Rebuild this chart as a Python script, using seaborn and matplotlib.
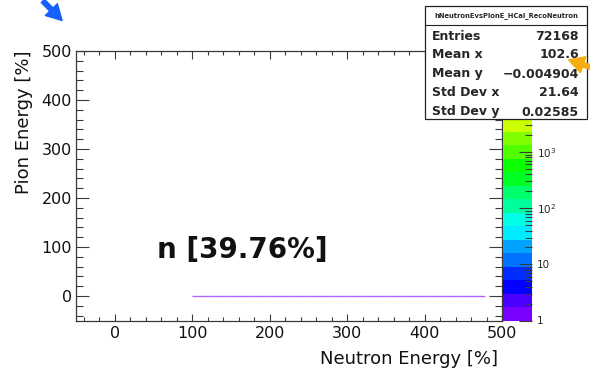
import colorsys
import numpy as np
import pandas as pd
import seaborn as sns
import matplotlib
matplotlib.use("Agg")
import matplotlib.pyplot as plt
from matplotlib.colors import ListedColormap, LogNorm
from matplotlib.cm import ScalarMappable
from matplotlib.patches import Rectangle, FancyArrowPatch
from matplotlib.lines import Line2D
from matplotlib.ticker import MultipleLocator, FixedLocator

# ---------------- data ----------------
hist_name = "hNeutronEvsPionE_HCal_RecoNeutron"
bin_left = [100, 125, 150, 175, 200, 225, 250, 275, 300, 325, 350, 375, 400, 425, 450]
bin_right = [125, 150, 175, 200, 225, 250, 275, 300, 325, 350, 375, 400, 425, 450, 478]
bin_y = [0, 0, 0, 0, 0, 0, 0, 0, 0, 0, 0, 0, 0, 0, 0]
bin_counts = [1.6, 1.5, 1.4, 1.3, 1.3, 1.2, 1.2, 1.1, 1.1, 1.1, 1.0, 1.0, 1.0, 1.0, 1.0]
z_min, z_max = 1.0, 6.3e4
x_ticks = [0, 100, 200, 300, 400, 500]
y_ticks = [0, 100, 200, 300, 400, 500]
cbar_ticks = [1, 10, 100, 1000, 10000]
cbar_labels = ["1", "10", "$10^{2}$", "$10^{3}$", ""]
stat_names = ["Entries", "Mean x", "Mean y", "Std Dev x", "Std Dev y"]
stat_values = ["72168", "102.6", "\u22120.004904", "21.64", "0.02585"]
annotation = "n [39.76%]"
x_title = "Neutron Energy [%]"
y_title = "Pion Energy [%]"

df = pd.DataFrame({"x0": bin_left, "x1": bin_right, "y": bin_y, "n": bin_counts})

# ---------------- style ----------------
sns.set_style("ticks")
plt.rcParams["font.family"] = ["DejaVu Sans"]
plt.rcParams["axes.axisbelow"] = False

# ROOT "pretty" palette, 20 contour bands
pal = []
for k in range(20):
    idx = int(k * 2.5)
    hue = 274.4 - 5.6 * (idx + 1)
    pal.append(colorsys.hls_to_rgb(hue / 360.0, 0.5, 1.0))
cmap = ListedColormap(pal)
norm = LogNorm(z_min, z_max)

W, H = 590, 368
fig = plt.figure(figsize=(W / 100, H / 100), dpi=100)
fig.patch.set_facecolor("white")

def fx(px):
    return px / W

def fy(py):
    return 1 - py / H

ax_l, ax_r, ax_t, ax_b = 76, 502, 51, 320.5
ax = fig.add_axes([fx(ax_l), fy(ax_b), fx(ax_r - ax_l), (ax_b - ax_t) / H])
ax.set_facecolor("white")

ax.hlines(df["y"], df["x0"], df["x1"], colors=cmap(norm(df["n"].values)),
          linewidth=1.0, alpha=0.6, zorder=3)

ax.set_xlim(-50, 500)
ax.set_ylim(-50, 500)
ax.xaxis.set_major_locator(FixedLocator(x_ticks))
ax.yaxis.set_major_locator(FixedLocator(y_ticks))
ax.xaxis.set_minor_locator(MultipleLocator(20))
ax.yaxis.set_minor_locator(MultipleLocator(20))
ax.set_xticklabels([str(v) for v in x_ticks])
ax.set_yticklabels([str(v) for v in y_ticks])

frame_c = "#3a3a3a"
for s in ax.spines.values():
    s.set_visible(True)
    s.set_color(frame_c)
    s.set_linewidth(0.9)

ax.tick_params(axis="x", which="major", direction="in", length=5.4, width=0.8,
               top=True, bottom=True, color=frame_c, labelsize=11.5, pad=4,
               labelcolor="#111111")
ax.tick_params(axis="x", which="minor", direction="in", length=2.9, width=0.8,
               top=True, bottom=True, color=frame_c)
ax.tick_params(axis="y", which="major", direction="in", length=9.4, width=0.8,
               left=True, right=True, color=frame_c, labelsize=11.5, pad=3,
               labelcolor="#111111")
ax.tick_params(axis="y", which="minor", direction="in", length=4.8, width=0.8,
               left=True, right=True, color=frame_c)
ax.set_xlabel("")
ax.set_ylabel("")

# colorbar
cax = fig.add_axes([fx(503), fy(ax_b), fx(28.5), (ax_b - ax_t) / H])
sm = ScalarMappable(norm=norm, cmap=cmap)
cb = fig.colorbar(sm, cax=cax)
cb.outline.set_visible(False)
cb.set_ticks(cbar_ticks, labels=cbar_labels)
cb.minorticks_on()
cax.set_axisbelow(False)
cax.tick_params(axis="y", which="major", direction="in", length=9.2, width=0.8,
                right=True, left=False, color=frame_c, labelsize=7.5, pad=4)
cax.tick_params(axis="y", which="minor", direction="in", length=4.8, width=0.8,
                right=True, left=False, color=frame_c)

# axis titles
fig.text(fx(498), fy(349.5), x_title, ha="right", va="top", fontsize=13,
         color="#111111")
fig.text(fx(24), fy(50), y_title, ha="center", va="top", rotation=90,
         fontsize=13, color="#111111")

# big annotation
fig.text(fx(157), fy(258), annotation, ha="left", va="baseline", fontsize=20,
         fontweight="bold", color="#111111")

# stats box
bx0, bx1, by0, by1 = 425, 587, 6, 119
fig.add_artist(Rectangle((fx(bx0), fy(by1)), fx(bx1 - bx0), (by1 - by0) / H,
                         transform=fig.transFigure, facecolor="white",
                         edgecolor="#222222", linewidth=0.9, zorder=10))
fig.add_artist(Line2D([fx(bx0), fx(bx1)], [fy(25), fy(25)],
                      transform=fig.transFigure, color="#222222",
                      linewidth=0.8, zorder=11))
fig.text(fx((bx0 + bx1) / 2), fy(16), hist_name, ha="center", va="center",
         fontsize=4.9, fontweight="bold", zorder=12)
row_y = [36, 55, 74, 93, 112]
for nm, val, ry in zip(stat_names, stat_values, row_y):
    fig.text(fx(432), fy(ry), nm, ha="left", va="center", fontsize=9,
             fontweight="bold", zorder=12)
    fig.text(fx(579), fy(ry), val, ha="right", va="center", fontsize=9,
             fontweight="bold", zorder=12)

# arrows (screen annotations)
fig.add_artist(FancyArrowPatch((fx(41), fy(-1)), (fx(64), fy(22.5)),
                               transform=fig.transFigure,
                               arrowstyle="simple,head_width=1.1,head_length=1.0,tail_width=0.3",
                               mutation_scale=11, color="#1560ff", zorder=13))
fig.add_artist(FancyArrowPatch((fx(593), fy(68)), (fx(566), fy(59)),
                               transform=fig.transFigure,
                               arrowstyle="simple,head_width=1.1,head_length=1.0,tail_width=0.3",
                               mutation_scale=11, color="#f5ad10", zorder=13))

fig.savefig("out.png", dpi=100, facecolor="white")
